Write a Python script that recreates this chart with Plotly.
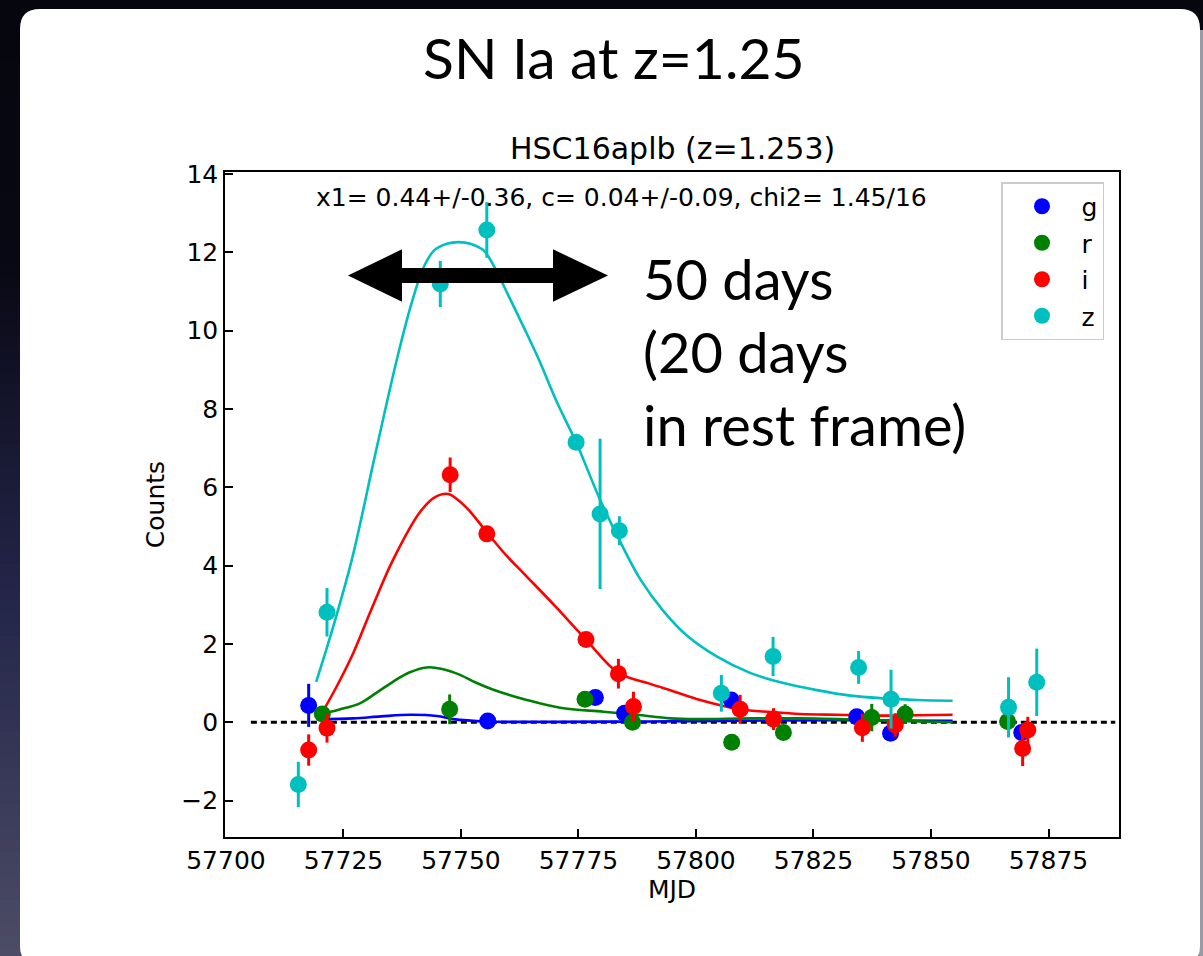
import plotly.graph_objects as go

# ---------------- data ----------------
bands = ["g", "r", "i", "z"]
band_colors = ["#0000ff", "#008000", "#ff0000", "#00bfbf"]

g_mjd = [57717.6, 57755.7, 57778.6, 57784.8, 57807.5, 57834.2, 57841.4, 57869.3]
g_flux = [0.43, 0.03, 0.63, 0.23, 0.57, 0.14, -0.28, -0.26]
g_err = [0.55, 0.10, 0.12, 0.10, 0.20, 0.10, 0.10, 0.12]

r_mjd = [57720.5, 57747.6, 57776.4, 57786.5, 57807.6, 57818.6, 57837.4, 57844.5, 57866.3]
r_flux = [0.21, 0.33, 0.59, 0.00, -0.51, -0.26, 0.12, 0.21, 0.02]
r_err = [0.12, 0.38, 0.12, 0.12, 0.10, 0.10, 0.35, 0.25, 0.12]

i_mjd = [57717.6, 57721.5, 57747.7, 57755.5, 57776.6, 57783.5, 57786.7,
         57809.4, 57816.5, 57835.4, 57842.4, 57869.5, 57870.6]
i_flux = [-0.71, -0.15, 6.32, 4.81, 2.11, 1.24, 0.40, 0.33, 0.08, -0.14, -0.07, -0.67, -0.20]
i_err = [0.40, 0.37, 0.44, 0.12, 0.12, 0.38, 0.38, 0.37, 0.28, 0.36, 0.30, 0.45, 0.34]

z_mjd = [57715.4, 57721.5, 57745.6, 57755.5, 57774.5, 57779.6, 57783.7,
         57805.4, 57816.4, 57834.6, 57841.5, 57866.5, 57872.5]
z_flux = [-1.59, 2.81, 11.19, 12.57, 7.15, 5.32, 4.89, 0.74, 1.68, 1.40, 0.59, 0.38, 1.02]
z_err = [0.58, 0.62, 0.59, 0.71, 0.15, 1.92, 0.37, 0.47, 0.50, 0.42, 0.75, 0.77, 0.86]

# fitted model light curves
g_model_mjd = [57719.3, 57727.1, 57733.0, 57739.2, 57744.9, 57748.4, 57755.5, 57770.0,
               57790.0, 57810.0, 57830.0, 57854.6]
g_model = [0.08, 0.10, 0.15, 0.19, 0.16, 0.08, 0.02, 0.01, 0.02, 0.04, 0.05, 0.04]

r_model_mjd = [57720.0, 57724.0, 57728.6, 57732.0, 57735.6, 57739.0, 57742.7, 57746.0,
               57749.8, 57753.0, 57756.9, 57764.0, 57771.1, 57780.3, 57787.4, 57794.5,
               57800.0, 57811.5, 57822.0, 57832.8, 57845.0, 57854.6]
r_model = [0.20, 0.32, 0.49, 0.75, 1.04, 1.27, 1.40, 1.36, 1.21, 1.02, 0.83, 0.57,
           0.37, 0.27, 0.19, 0.10, 0.08, 0.10, 0.10, 0.07, 0.03, 0.00]

i_model_mjd = [57720.4, 57723.5, 57727.1, 57731.0, 57735.6, 57741.3, 57744.5, 57747.3,
               57751.0, 57755.5, 57759.8, 57764.0, 57770.0, 57776.6, 57783.5, 57790.3,
               57795.0, 57800.9, 57809.4, 57816.0, 57822.2, 57830.0, 57839.9, 57847.0, 57854.6]
i_model = [0.23, 0.90, 1.77, 2.90, 4.16, 5.37, 5.75, 5.83, 5.50, 4.85, 4.24, 3.72,
           2.97, 2.11, 1.26, 0.98, 0.80, 0.57, 0.33, 0.26, 0.21, 0.19, 0.17, 0.18, 0.19]

z_model_mjd = [57719.2, 57722.2, 57726.8, 57731.6, 57736.4, 57739.5, 57742.0, 57744.3,
               57747.0, 57749.5, 57752.0, 57754.8, 57757.0, 57760.0, 57763.5, 57766.5,
               57770.5, 57774.5, 57779.6, 57784.0, 57788.1, 57793.0, 57798.0, 57804.4,
               57811.5, 57818.6, 57825.7, 57832.8, 57840.0, 57847.0, 57854.6]
z_model = [1.03, 2.19, 4.16, 6.75, 9.28, 10.70, 11.60, 12.05, 12.22, 12.26, 12.22, 12.05,
           11.65, 10.92, 10.05, 9.28, 8.15, 7.15, 5.68, 4.58, 3.66, 2.85, 2.22, 1.68,
           1.26, 1.00, 0.82, 0.68, 0.61, 0.57, 0.55]

zero_x = [57705.3, 57889.2]
zero_y = [0, 0]

x_ticks = [57700, 57725, 57750, 57775, 57800, 57825, 57850, 57875]
y_ticks = [-2, 0, 2, 4, 6, 8, 10, 12, 14]

slide_title = "SN Ia at z=1.25"
plot_title = "HSC16aplb (z=1.253)"
fit_text = "x1= 0.44+/-0.36, c= 0.04+/-0.09, chi2= 1.45/16"
note_text = "50 days<br>(20 days<br>in rest frame)"

points = [(g_mjd, g_flux, g_err), (r_mjd, r_flux, r_err), (i_mjd, i_flux, i_err), (z_mjd, z_flux, z_err)]
models = [(g_model_mjd, g_model), (r_model_mjd, r_model), (i_model_mjd, i_model), (z_model_mjd, z_model)]

# ---------------- layout geometry ----------------
W, H = 1203, 956
ML, MR, MT, MB = 225, 84, 172, 119
PW, PH = W - ML - MR, H - MT - MB


def px(x):
    return (x - ML) / PW


def py(y):
    return 1 - (y - MT) / PH


def path_from_pixels(cmds):
    out = []
    for c in cmds:
        if isinstance(c, str):
            out.append(c)
        else:
            out.append(f"{px(c[0]):.5f},{py(c[1]):.5f}")
    return " ".join(out)


fig = go.Figure()

fig.add_trace(go.Scatter(x=zero_x, y=zero_y, mode="lines",
                         line=dict(color="black", width=3, dash="6px,4px"),
                         showlegend=False, hoverinfo="skip"))

for (mx, my), col in zip(models, band_colors):
    fig.add_trace(go.Scatter(x=mx, y=my, mode="lines",
                             line=dict(color=col, width=2.6, shape="spline", smoothing=1.0),
                             showlegend=False, hoverinfo="skip"))

for (x, y, e), col, b in zip(points, band_colors, bands):
    fig.add_trace(go.Scatter(x=x, y=y, mode="markers", name=b, legendgroup=b,
                             marker=dict(color=col, size=17, line=dict(width=0)),
                             error_y=dict(type="data", array=e, color=col, thickness=3, width=0)))

# ---------------- decorations (slide card, arrow) ----------------
shapes = []


def lerp(c1, c2, t):
    return "#" + "".join(f"{int(round(a + (b - a) * t)):02x}" for a, b in zip(c1, c2))


stops = [(0, (6, 6, 14)), (260, (8, 8, 20)), (600, (36, 38, 74)), (956, (76, 76, 102))]
for y0 in range(0, 956, 12):
    yc = y0 + 6
    col = lerp(stops[-1][1], stops[-1][1], 0)
    for (a, ca), (b, cb) in zip(stops[:-1], stops[1:]):
        if a <= yc <= b:
            col = lerp(ca, cb, (yc - a) / (b - a))
            break
    shapes.append(dict(type="rect", xref="paper", yref="paper", layer="below",
                       x0=px(0), x1=px(21), y0=py(y0), y1=py(y0 + 12),
                       fillcolor=col, line=dict(width=0)))

# thin grey edge on the right of the slide
shapes.append(dict(type="rect", xref="paper", yref="paper", layer="below",
                   x0=px(1199), x1=px(1203), y0=py(30), y1=py(956),
                   fillcolor="#9a9aa4", line=dict(width=0)))

L, R, T, B, rad = 20, 1200, 9, 966, 20
card = path_from_pixels(["M", (L + rad, T), "L", (R - rad, T), "Q", (R, T), (R, T + rad),
                         "L", (R, B - rad), "Q", (R, B), (R - rad, B),
                         "L", (L + rad, B), "Q", (L, B), (L, B - rad),
                         "L", (L, T + rad), "Q", (L, T), (L + rad, T), "Z"])
shapes.append(dict(type="path", xref="paper", yref="paper", layer="below", path=card,
                   fillcolor="white", line=dict(width=0)))

arrow = path_from_pixels(["M", (348, 275.5), "L", (402, 249.3), "L", (402, 268), "L", (553, 268),
                          "L", (553, 249.3), "L", (608, 275.5), "L", (553, 301.7), "L", (553, 283),
                          "L", (402, 283), "L", (402, 301.7), "Z"])
shapes.append(dict(type="path", xref="paper", yref="paper", layer="above", path=arrow,
                   fillcolor="black", line=dict(width=0)))

annotations = [
    dict(text=slide_title, x=px(614), y=py(57), xref="paper", yref="paper", showarrow=False,
         xanchor="center", yanchor="middle", font=dict(family="Lato", size=57, color="black")),
    dict(text=plot_title, x=px(672), y=py(149), xref="paper", yref="paper", showarrow=False,
         xanchor="center", yanchor="middle", font=dict(family="DejaVu Sans", size=30, color="black")),
    dict(text=fit_text, x=px(621), y=py(197), xref="paper", yref="paper", showarrow=False,
         xanchor="center", yanchor="middle", font=dict(family="DejaVu Sans", size=25, color="black")),
    dict(text=note_text, x=px(641), y=py(243), xref="paper", yref="paper", showarrow=False,
         xanchor="left", yanchor="top", align="left",
         font=dict(family="Lato", size=56, color="black")),
]

axis_common = dict(ticks="inside", ticklen=8, tickwidth=1.5, tickcolor="black",
                   showline=True, linecolor="black", linewidth=1.6, mirror=True,
                   showgrid=False, zeroline=False, tickformat="d",
                   tickfont=dict(family="DejaVu Sans", size=25, color="black"))

fig.update_layout(
    width=W, height=H,
    margin=dict(l=ML, r=MR, t=MT, b=MB, autoexpand=False),
    paper_bgcolor="#06060e", plot_bgcolor="white",
    xaxis=dict(range=[57699.8, 57890], tickvals=x_ticks, ticklabelstandoff=0,
               title=dict(text="MJD", font=dict(family="DejaVu Sans", size=25, color="black"), standoff=6),
               **axis_common),
    yaxis=dict(range=[-2.93, 14.05], tickvals=y_ticks, ticklabelstandoff=0,
               title=dict(text="Counts", font=dict(family="DejaVu Sans", size=25, color="black"), standoff=10),
               **axis_common),
    legend=dict(x=px(1001), y=py(182), xanchor="left", yanchor="top", bgcolor="white",
                bordercolor="#cccccc", borderwidth=1.5, itemwidth=69, tracegroupgap=1,
                font=dict(family="DejaVu Sans", size=25, color="black")),
    shapes=shapes, annotations=annotations, showlegend=True,
)

fig.write_html("out.html", config={"displayModeBar": False},
               post_script="document.body.style.margin='0';document.body.style.background='#06060e';")
